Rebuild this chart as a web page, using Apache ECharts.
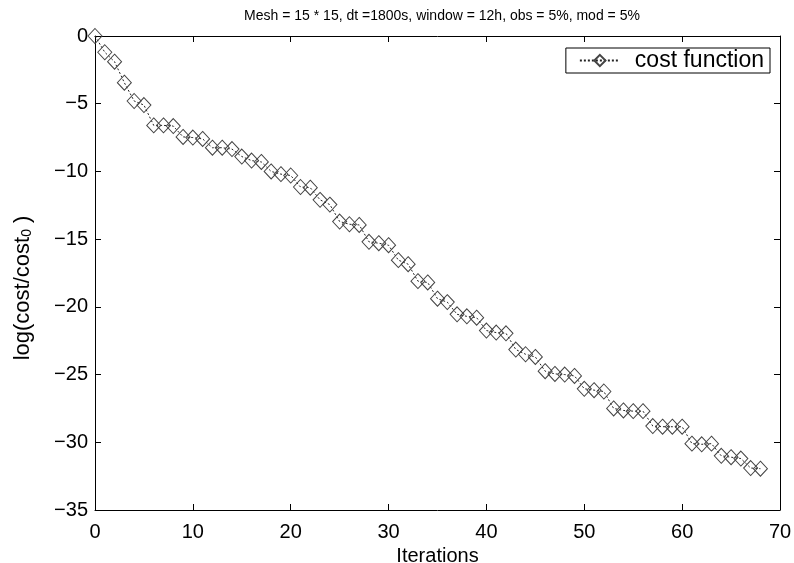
<!DOCTYPE html>
<html>
<head>
<meta charset="utf-8">
<script src="https://cdn.jsdelivr.net/npm/echarts@6/dist/echarts.min.js"></script>
<style>
html, body { margin: 0; padding: 0; background: #fff; }
#chart { width: 794px; height: 563px; }
</style>
</head>
<body>
<div id="chart"></div>
<script>
// Iteration index and log(cost/cost_0) per iteration
const iterations = [];
for (let i = 0; i <= 68; i++) iterations.push(i);
const logCost = [
  0, -1.2, -1.9, -3.45, -4.8, -5.1, -6.6, -6.6, -6.65, -7.45,
  -7.5, -7.6, -8.25, -8.25, -8.35, -8.9, -9.2, -9.3, -10.0, -10.2,
  -10.3, -11.15, -11.2, -12.1, -12.45, -13.7, -13.9, -13.95, -15.2, -15.3,
  -15.45, -16.55, -16.85, -18.1, -18.2, -19.4, -19.65, -20.55, -20.7, -20.8,
  -21.75, -21.9, -21.95, -23.15, -23.5, -23.7, -24.75, -24.95, -25.0, -25.1,
  -26.05, -26.15, -26.25, -27.5, -27.65, -27.7, -27.7, -28.8, -28.85, -28.85,
  -28.85, -30.1, -30.15, -30.1, -31.0, -31.1, -31.2, -31.9, -31.95
];
const xTicks = [0, 10, 20, 30, 40, 50, 60, 70];
const yTicks = [0, -5, -10, -15, -20, -25, -30, -35];

const FONT = 'Liberation Sans, Arial, sans-serif';
const chart = echarts.init(document.getElementById('chart'), null, { renderer: 'canvas' });

const tickStyle = () => ({ show: true, inside: true, length: 6, lineStyle: { color: '#000', width: 1 } });
const lineAxis = () => ({ show: true, onZero: false, lineStyle: { color: '#000', width: 1 } });
const minusSign = v => String(v).replace('-', '\u2212');

chart.setOption({
  animation: false,
  backgroundColor: '#fff',
  title: {
    text: 'Mesh = 15 * 15, dt =1800s, window = 12h, obs = 5%, mod = 5%',
    left: 437, top: 4, textAlign: 'center',
    textStyle: { fontFamily: FONT, fontSize: 14, fontWeight: 'normal', color: '#000' }
  },
  grid: { left: 95, right: 14, top: 36, bottom: 53, containLabel: false, outerBoundsMode: 'none' },
  legend: {
    right: 24, top: 48,
    orient: 'horizontal',
    backgroundColor: '#fff',
    borderColor: '#000', borderWidth: 1,
    borderRadius: 0,
    padding: [1, 6, 1, 13],
    itemWidth: 40, itemHeight: 14,
    textStyle: { fontFamily: FONT, fontSize: 23, lineHeight: 23, color: '#000', padding: [0, 0, 0, 10] },
    data: [{ name: 'cost function' }]
  },
  graphic: [{
    type: 'text',
    x: 22, y: 288, rotation: Math.PI / 2,
    style: {
      text: '{a|log(cost/cost}{s|0}{a| )}',
      align: 'center', verticalAlign: 'middle',
      rich: {
        a: { fontFamily: FONT, fontSize: 22, fill: '#000', verticalAlign: 'bottom', lineHeight: 24 },
        s: { fontFamily: FONT, fontSize: 14, fill: '#000', verticalAlign: 'bottom', lineHeight: 14 }
      }
    }
  }],
  xAxis: [{
    type: 'value', min: xTicks[0], max: xTicks[xTicks.length - 1], interval: 10,
    name: 'Iterations', nameLocation: 'middle', nameGap: 35,
    nameTextStyle: { fontFamily: FONT, fontSize: 20, color: '#000' },
    axisLine: lineAxis(), axisTick: tickStyle(),
    axisLabel: { fontFamily: FONT, fontSize: 20, color: '#000', margin: 12 },
    splitLine: { show: false }
  }, {
    type: 'value', position: 'top', min: xTicks[0], max: xTicks[xTicks.length - 1], interval: 10,
    axisLine: lineAxis(), axisTick: tickStyle(), axisLabel: { show: false }, splitLine: { show: false }
  }],
  yAxis: [{
    type: 'value', min: yTicks[yTicks.length - 1], max: yTicks[0], interval: 5,
    axisLine: lineAxis(), axisTick: tickStyle(),
    axisLabel: { fontFamily: FONT, fontSize: 20, color: '#000', margin: 7, formatter: minusSign },
    splitLine: { show: false }
  }, {
    type: 'value', position: 'right', min: yTicks[yTicks.length - 1], max: yTicks[0], interval: 5,
    axisLine: lineAxis(), axisTick: tickStyle(), axisLabel: { show: false }, splitLine: { show: false }
  }],
  series: [{
    name: 'cost function',
    type: 'line',
    data: iterations.map((x, i) => [x, logCost[i]]),
    symbol: 'diamond',
    symbolSize: [14, 15],
    showAllSymbol: true,
    lineStyle: { color: '#222', width: 1, type: [2, 2] },
    itemStyle: { color: 'rgba(255,255,255,0)', borderColor: '#444', borderWidth: 1 },
    clip: false
  }]
});
</script>
</body>
</html>
